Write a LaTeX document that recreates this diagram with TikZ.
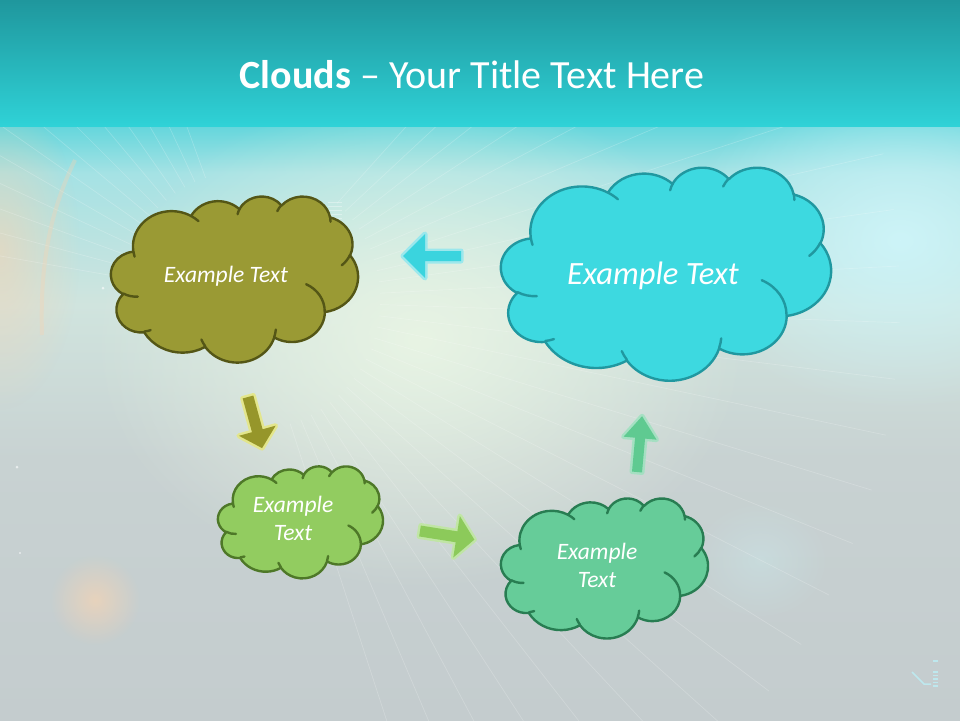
\documentclass[tikz,border=0pt]{standalone}
\usepackage{fontspec}
\setmainfont{Carlito}
\usetikzlibrary{fadings}

\definecolor{bandtop}{RGB}{31,151,157}
\definecolor{bandbot}{RGB}{47,210,215}
\definecolor{bgA}{RGB}{100,214,220}
\definecolor{bgA2}{RGB}{165,226,228}
\definecolor{bgB}{RGB}{208,228,222}
\definecolor{bgB2}{RGB}{200,210,210}
\definecolor{bgC}{RGB}{196,204,206}
\definecolor{mintglow}{RGB}{232,244,228}
\definecolor{cyanglow}{RGB}{205,244,248}
\definecolor{peach}{RGB}{245,212,180}
\definecolor{iconc}{RGB}{190,232,238}

\definecolor{olivefill}{RGB}{154,154,52}
\definecolor{olivedraw}{RGB}{84,86,22}
\definecolor{bluefill}{RGB}{61,217,224}
\definecolor{bluedraw}{RGB}{32,152,160}
\definecolor{lgfill}{RGB}{146,204,96}
\definecolor{lgdraw}{RGB}{78,120,40}
\definecolor{sgfill}{RGB}{102,204,153}
\definecolor{sgdraw}{RGB}{40,125,82}

\definecolor{arrcyan}{RGB}{58,212,222}
\definecolor{glowcyan}{RGB}{135,230,240}
\definecolor{arrolive}{RGB}{150,150,42}
\definecolor{glowolive}{RGB}{232,232,115}
\definecolor{arrlg}{RGB}{140,202,90}
\definecolor{glowlg}{RGB}{188,234,150}
\definecolor{arrsg}{RGB}{95,202,145}
\definecolor{glowsg}{RGB}{152,226,188}

\pgfdeclareverticalshading{lowbg}{100bp}{color(0bp)=(bgC); color(25bp)=(bgC); color(47bp)=(bgB2); color(60bp)=(bgB); color(71bp)=(bgA2); color(75bp)=(bgA); color(100bp)=(bgA)}
\tikzfading[name=glowfade, inner color=transparent!0, outer color=transparent!100]

% OOXML arcTo (visual angles) -> TikZ parametric arc styles
\newcommand\ooprep[5]{%
  \pgfmathsetmacro\ooTa{atan2(sin(#4)/#3,cos(#4)/#2)}%
  \pgfmathsetmacro\ooTb{atan2(sin(#4+#5)/#3,cos(#4+#5)/#2)}%
  \pgfmathsetmacro\ooTb{(\ooTb)+360*round(((\ooTa)+(#5)-(\ooTb))/360)}%
  \edef\ootmp{\noexpand\tikzset{#1/.style={start angle=\ooTa,end angle=\ooTb,x radius=#2,y radius=#3}}}\ootmp}
\ooprep{cloudout1}{6.753}{9.190}{-190.48748}{123.78053}
\ooprep{cloudout2}{5.333}{7.267}{-144.10238}{89.94523}
\ooprep{cloudout3}{4.365}{5.945}{-145.80792}{99.72302}
\ooprep{cloudout4}{4.857}{6.595}{-130.98607}{117.24173}
\ooprep{cloudout5}{5.333}{7.273}{-78.70888}{109.02692}
\ooprep{cloudout6}{6.775}{9.220}{-46.26725}{130.269}
\ooprep{cloudout7}{5.785}{7.867}{0.62502}{114.03333}
\ooprep{cloudout8}{6.752}{9.215}{22.4516}{115.17255}
\ooprep{cloudout9}{7.720}{10.543}{66.24263}{75.71102}
\ooprep{cloudout10}{4.360}{5.918}{-274.94208}{146.73557}
\ooprep{cloudout11}{4.345}{5.945}{-246.8285}{152.51885}
\ooprep{cloudin1}{4.345}{5.945}{86.742}{26.4295}
\ooprep{cloudin2}{4.360}{5.918}{73.61047}{11.44747}
\ooprep{cloudin3}{6.752}{9.215}{137.62415}{14.0811}
\ooprep{cloudin4}{6.752}{9.215}{6.45327}{15.99835}
\ooprep{cloudin5}{5.785}{7.867}{-70.29235}{70.91737}
\ooprep{cloudin6}{5.333}{7.273}{30.31803}{27.7515}
\ooprep{cloudin7}{4.857}{6.595}{-13.74433}{14.8589}
\ooprep{cloudin8}{4.857}{6.595}{-149.18145}{18.19537}
\ooprep{cloudin9}{4.365}{5.945}{-163.49427}{17.68635}
\ooprep{cloudin10}{6.753}{9.190}{-66.70695}{12.31935}
\ooprep{cloudin11}{6.753}{9.190}{157.65435}{11.85817}

% cloud: x0 y0 w h fill stroke linewidth
\newcommand\pcloud[7]{%
  \pgfmathsetmacro\cxs{#3/43.2}\pgfmathsetmacro\cys{#4/43.2}%
  \begin{scope}[shift={(#1,#2)},xscale=\cxs,yscale=\cys]
    \path[fill=#5,draw=#6,line width=#7,line join=round]
      (3.9,14.37) arc[cloudout1] arc[cloudout2] arc[cloudout3] arc[cloudout4]
      arc[cloudout5] arc[cloudout6] arc[cloudout7] arc[cloudout8]
      arc[cloudout9] arc[cloudout10] arc[cloudout11] -- cycle;
    \draw[#6,line width=#7,line cap=round]
      (4.693,26.177) arc[cloudin1] (6.928,34.899) arc[cloudin2]
      (16.478,39.09) arc[cloudin3] (28.827,34.751) arc[cloudin4]
      (34.129,22.954) arc[cloudin5] (41.798,15.354) arc[cloudin6]
      (38.324,5.426) arc[cloudin7] (29.078,3.952) arc[cloudin8]
      (22.141,4.72) arc[cloudin9] (14,5.192) arc[cloudin10]
      (4.127,15.789) arc[cloudin11];
  \end{scope}}

% block arrow: x y rotate length shafthalf headlen headhalf fill glow
\newcommand\barrow[9]{%
  \begin{scope}[shift={(#1,#2)},rotate=#3]
    \path[draw=#9,line width=5,line join=round,opacity=0.75,fill=#9]
      (0,-#5) -- ({#4-#6},-#5) -- ({#4-#6},-#7) -- (#4,0) -- ({#4-#6},#7) -- ({#4-#6},#5) -- (0,#5) -- cycle;
    \path[fill=#8]
      (0,-#5) -- ({#4-#6},-#5) -- ({#4-#6},-#7) -- (#4,0) -- ({#4-#6},#7) -- ({#4-#6},#5) -- (0,#5) -- cycle;
  \end{scope}}

\tikzset{
  titletxt/.style={text=white,inner sep=0,font=\fontsize{40}{48}\selectfont},
  cloudtxt/.style={text=white,inner sep=0,align=center,font=\itshape\fontsize{23.5}{28}\selectfont},
  bigtxt/.style={text=white,inner sep=0,font=\itshape\fontsize{32.5}{39}\selectfont},
  ray/.style={white,opacity=0.2,line width=0.7},
}

\begin{document}
\begin{tikzpicture}[x=1pt,y=-1pt]
\useasboundingbox (0,0) rectangle (960,720);
% ---------- background ----------
\shade[shading=lowbg] (0,126) rectangle (960,720);
\fill[mintglow,path fading=glowfade] (420,340) ellipse [x radius=330,y radius=250];
\fill[cyanglow,path fading=glowfade] (900,240) ellipse [x radius=220,y radius=170];
\fill[cyanglow,path fading=glowfade,opacity=0.3] (760,560) ellipse [x radius=70,y radius=60];
\fill[peach,path fading=glowfade,opacity=0.6] (0,250) ellipse [x radius=80,y radius=160];
\fill[peach,path fading=glowfade,opacity=0.7] (95,600) circle (45);
\begin{scope}
  \clip (0,126) rectangle (960,720);
  \foreach \a in {-48,-43,...,72}
    \draw[ray] (250,300) ++(\a:130) -- ++(\a:520);
  \foreach \a in {190,195,...,250}
    \draw[ray] (250,300) ++(\a:130) -- ++(\a:450);
  \draw[peach,opacity=0.35,line width=4] (75,160) .. controls (48,215) and (40,270) .. (42,335);
  \fill[white,opacity=0.6] (17,467) circle (1.5) (20,553) circle (1.2) (103,288) circle (1.5);
\end{scope}
\shade[top color=bandtop,bottom color=bandbot] (0,0) rectangle (960,126);
% faint grid icon behind olive cloud
\foreach \yy in {202,206,...,222} \draw[white,opacity=0.35,line width=0.8] (328,\yy) -- (342,\yy);
% bottom-right icon
\draw[iconc,line width=1.5] (912,672) -- (924,684) -- (931,684);
\foreach \yy in {661,672,675.5,679,682.5,686} \draw[iconc,line width=1.5] (933,\yy) -- (938,\yy);

% ---------- title ----------
\node[titletxt,anchor=base] (title) at (472,88) {\textbf{Clouds} – Your Title Text Here};

% ---------- clouds ----------
\pcloud{111}{196}{247}{166}{olivefill}{olivedraw}{2.4}
\pcloud{501}{167}{330}{213}{bluefill}{bluedraw}{2.4}
\pcloud{218}{466}{165}{112}{lgfill}{lgdraw}{2.4}
\pcloud{501}{498}{207}{140}{sgfill}{sgdraw}{2.4}

\node[cloudtxt,anchor=base] (olivetext) at (226,282) {Example Text};
\node[bigtxt,anchor=base] (bluetext) at (653,284) {Example Text};
\node[cloudtxt] (lgtext) at (293,518) {Example\\Text};
\node[cloudtxt] (sgtext) at (597,565) {Example\\Text};

% ---------- arrows ----------
\barrow{461}{256}{180}{58}{5}{22}{22}{arrcyan}{glowcyan}
\barrow{248}{397}{-74.6}{53}{5.5}{18}{19}{arrolive}{glowolive}
\barrow{420}{531}{-9}{55}{5.5}{18}{21}{arrlg}{glowlg}
\barrow{637}{472}{84.8}{56}{5}{22}{16.5}{arrsg}{glowsg}
\end{tikzpicture}
\end{document}
